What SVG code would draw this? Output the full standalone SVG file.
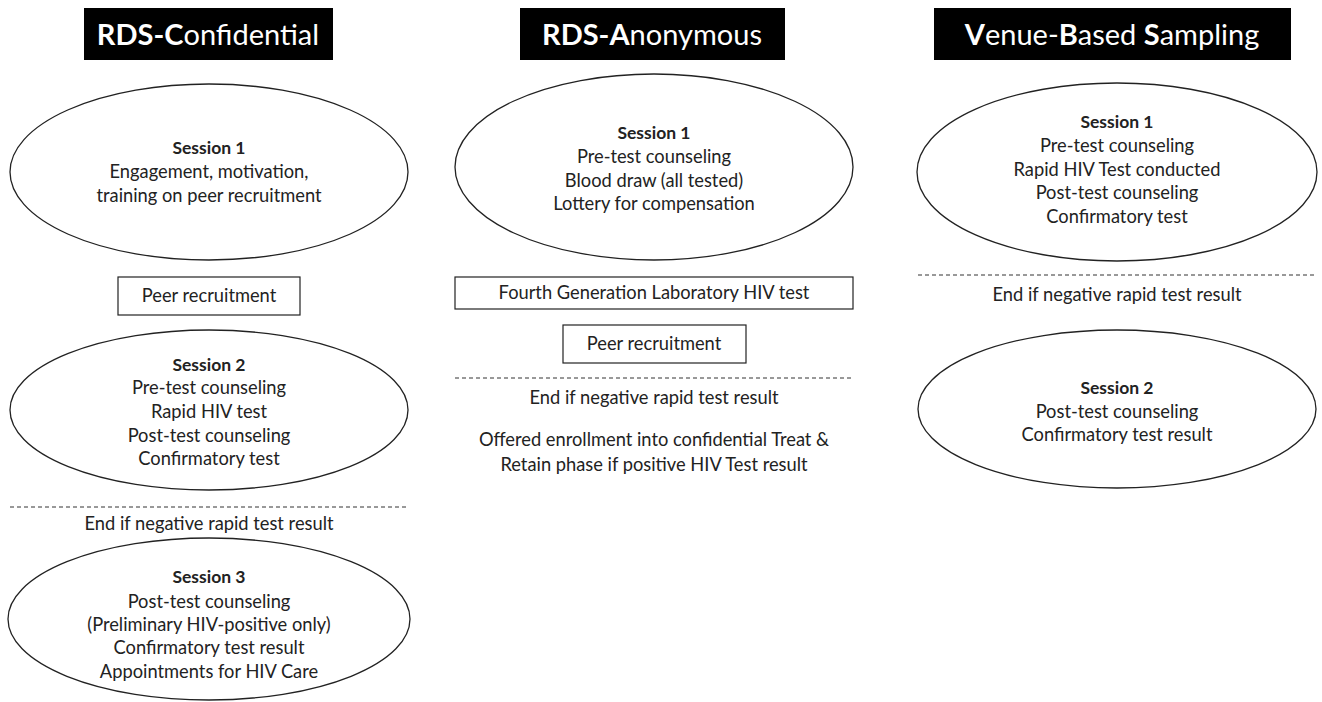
<svg xmlns="http://www.w3.org/2000/svg" width="1322" height="702" viewBox="0 0 1322 702">
<style>
.hdr{fill:#000}
.ht{font-family:Lato,"Liberation Sans",sans-serif;font-size:29px;fill:#fff;text-anchor:middle}
.b{font-weight:bold}
.el{fill:#fff;stroke:#222;stroke-width:1.3}
.bx{fill:#fff;stroke:#222;stroke-width:1.2}
.t{font-family:Lato,"Liberation Sans",sans-serif;font-size:18.3px;fill:#222;text-anchor:middle}
.tb{font-weight:bold;font-size:17.5px}
.dash{stroke:#333;stroke-width:1;stroke-dasharray:4 3;fill:none}
</style>
<rect width="1322" height="702" fill="#fff"/>
<g id="hdr-conf">
<rect class="hdr" x="84" y="8" width="249" height="52"/>
<text class="ht" x="208" y="45"><tspan class="b">RDS-C</tspan>onfidential</text>
</g>
<g id="hdr-anon">
<rect class="hdr" x="520" y="8" width="265" height="52"/>
<text class="ht" x="652" y="45"><tspan class="b">RDS-A</tspan>nonymous</text>
</g>
<g id="hdr-vbs">
<rect class="hdr" x="934" y="8" width="357" height="52"/>
<text class="ht" x="1112" y="45"><tspan class="b">V</tspan>enue-<tspan class="b">B</tspan>ased <tspan class="b">S</tspan>ampling</text>
</g>

<g id="c-s1">
<ellipse class="el" cx="209" cy="172" rx="199" ry="88"/>
<text class="t" x="209" y="154"><tspan class="tb">Session 1</tspan><tspan x="209" y="178">Engagement, motivation,</tspan><tspan x="209" y="202">training on peer recruitment</tspan></text>
</g>
<g id="c-peer">
<rect class="bx" x="118" y="277" width="182" height="38"/>
<text class="t" x="209" y="302">Peer recruitment</text>
</g>
<g id="c-s2">
<ellipse class="el" cx="209" cy="410" rx="199" ry="80"/>
<text class="t" x="209" y="371"><tspan class="tb">Session 2</tspan><tspan x="209" y="394">Pre-test counseling</tspan><tspan x="209" y="418">Rapid HIV test</tspan><tspan x="209" y="442">Post-test counseling</tspan><tspan x="209" y="465">Confirmatory test</tspan></text>
</g>
<g id="c-end">
<text class="t" x="209" y="530">End if negative rapid test result</text>
</g>
<g id="c-s3">
<ellipse class="el" cx="209" cy="619" rx="201" ry="81"/>
<text class="t" x="209" y="583"><tspan class="tb">Session 3</tspan><tspan x="209" y="608">Post-test counseling</tspan><tspan x="209" y="631">(Preliminary HIV-positive only)</tspan><tspan x="209" y="654">Confirmatory test result</tspan><tspan x="209" y="678">Appointments for HIV Care</tspan></text>
</g>

<g id="a-s1">
<ellipse class="el" cx="654" cy="167" rx="199" ry="93"/>
<text class="t" x="654" y="139"><tspan class="tb">Session 1</tspan><tspan x="654" y="163">Pre-test counseling</tspan><tspan x="654" y="187">Blood draw (all tested)</tspan><tspan x="654" y="210">Lottery for compensation</tspan></text>
</g>
<g id="a-lab">
<rect class="bx" x="455" y="277" width="398" height="32"/>
<text class="t" x="654" y="299">Fourth Generation Laboratory HIV test</text>
</g>
<g id="a-peer">
<rect class="bx" x="563" y="325" width="183" height="38"/>
<text class="t" x="654" y="350">Peer recruitment</text>
</g>
<g id="a-end">
<text class="t" x="654" y="404">End if negative rapid test result</text>
<text class="t" x="654" y="446">Offered enrollment into confidential Treat &amp;<tspan x="654" y="471">Retain phase if positive HIV Test result</tspan></text>
</g>

<g id="v-s1">
<ellipse class="el" cx="1117" cy="172" rx="200" ry="89"/>
<text class="t" x="1117" y="128"><tspan class="tb">Session 1</tspan><tspan x="1117" y="152">Pre-test counseling</tspan><tspan x="1117" y="176">Rapid HIV Test conducted</tspan><tspan x="1117" y="199">Post-test counseling</tspan><tspan x="1117" y="223">Confirmatory test</tspan></text>
</g>
<g id="v-end">
<text class="t" x="1117" y="301">End if negative rapid test result</text>
</g>
<g id="v-s2">
<ellipse class="el" cx="1117" cy="409" rx="199" ry="79"/>
<text class="t" x="1117" y="394"><tspan class="tb">Session 2</tspan><tspan x="1117" y="418">Post-test counseling</tspan><tspan x="1117" y="441">Confirmatory test result</tspan></text>
</g>

<g id="connectors">
<line class="dash" x1="10" y1="507" x2="408" y2="507"/>
<line class="dash" x1="455" y1="378" x2="853" y2="378"/>
<line class="dash" x1="918" y1="275" x2="1316" y2="275"/>
</g>
</svg>
